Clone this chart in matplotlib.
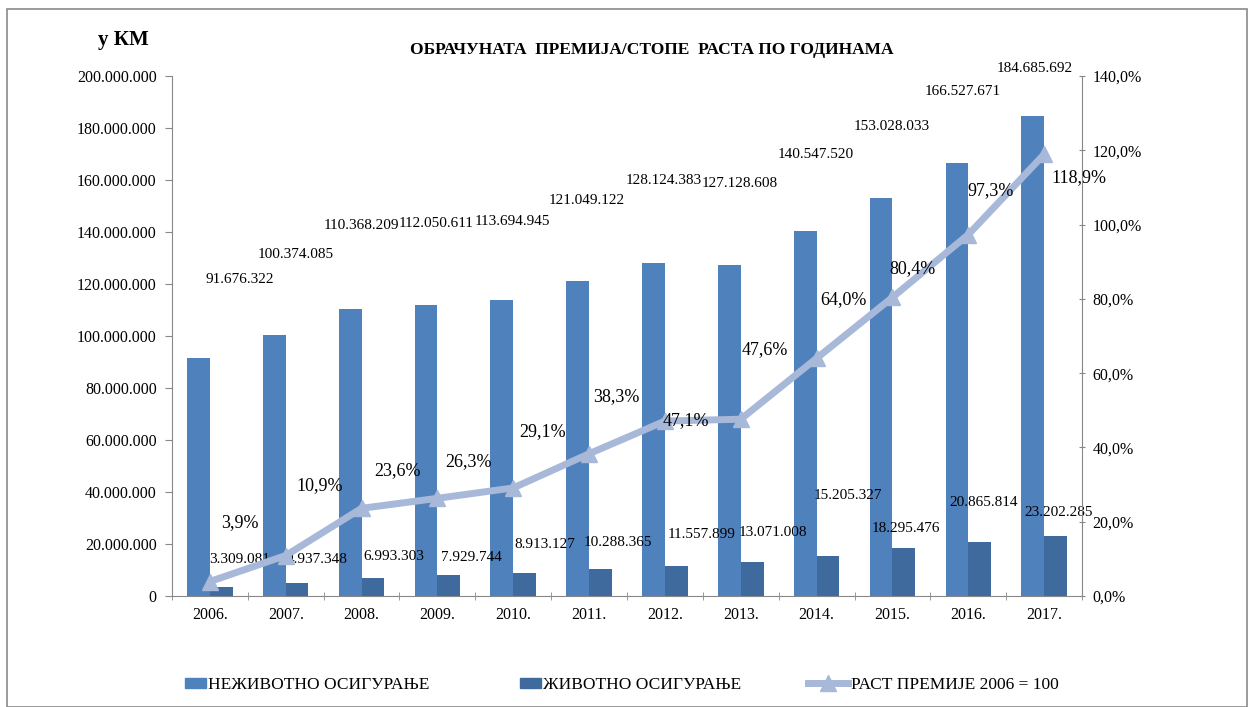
import matplotlib
matplotlib.use('Agg')
import matplotlib.pyplot as plt
import numpy as np
from matplotlib.lines import Line2D
from matplotlib.patches import Rectangle, Patch

# podaci
years = ['2006.', '2007.', '2008.', '2009.', '2010.', '2011.',
         '2012.', '2013.', '2014.', '2015.', '2016.', '2017.']
nonlife = [91676322, 100374085, 110368209, 112050611, 113694945, 121049122,
           128124383, 127128608, 140547520, 153028033, 166527671, 184685692]
life = [3309081, 4937348, 6993303, 7929744, 8913127, 10288365,
        11557899, 13071008, 15205327, 18295476, 20865814, 23202285]
growth = [3.9, 10.9, 23.6, 26.3, 29.1, 38.3, 47.1, 47.6, 64.0, 80.4, 97.3, 118.9]

series_names = ['НЕЖИВОТНО ОСИГУРАЊЕ', 'ЖИВОТНО ОСИГУРАЊЕ', 'РАСТ ПРЕМИЈЕ 2006 = 100']
title = 'ОБРАЧУНАТА  ПРЕМИЈА/СТОПЕ  РАСТА ПО ГОДИНАМА'
unit = 'у КМ'

# pomaci natpisa (u pikselima), rucno kao u originalu
nonlife_lbl_off = [(41, 78), (21, 81), (11, 84), (10, 81), (11, 79), (9, 81),
                   (10, 82), (10, 82), (11, 76), (11, 72), (6, 72), (2, 47)]
life_lbl_off = [(18, 28), (20, 24), (21, 21), (23, 18), (20, 28), (17, 27),
                (25, 31), (21, 30), (20, 61), (2, 20), (4, 39), (3, 23)]
growth_lbl_off = [(30, 59), (34, 70), (36, 38), (31, 37), (29, 56), (27, 57),
                  (21, 0), (24, 70), (27, 59), (20, 29), (22, 44), (35, -23)]
legend_x = [185, 520, 808]

c_nonlife = '#4F81BD'
c_life = '#3F6A9E'
c_line = '#A7B8D8'
c_axis = '#888888'
bar_w = 0.3

plt.rcParams['font.family'] = ['Liberation Serif', 'DejaVu Serif']

fig = plt.figure(figsize=(12.49, 7.07), dpi=100)
ax = fig.add_axes([0.1377, 0.157, 0.7286, 0.7355])
ax2 = ax.twinx()

x = np.arange(len(years))
ax.bar(x - bar_w / 2, nonlife, width=bar_w, color=c_nonlife, zorder=2)
ax.bar(x + bar_w / 2, life, width=bar_w, color=c_life, zorder=2)
ax2.plot(x, growth, color=c_line, lw=5, marker='^', markersize=11,
         solid_capstyle='butt', zorder=3)

ax.set_xlim(-0.5, len(years) - 0.5)
ax.set_ylim(0, 200e6)
ax2.set_ylim(0, 140)
ax.set_yticks(np.arange(0, 200e6 + 1, 20e6))
ax.set_yticklabels(['0'] + ['{:,}'.format(int(v)).replace(',', '.')
                            for v in np.arange(20e6, 200e6 + 1, 20e6)])
ax2.set_yticks(np.arange(0, 141, 20))
ax2.set_yticklabels(['{:.1f}%'.format(v).replace('.', ',') for v in np.arange(0, 141, 20)])

ax.set_xticks(x)
ax.set_xticklabels(years)
ax.set_xticks(np.arange(-0.5, len(years), 1), minor=True)
ax.tick_params(axis='x', which='major', length=0, pad=8, labelsize=11.5)
ax.tick_params(axis='x', which='minor', length=6, direction='inout', color=c_axis)
ax.tick_params(axis='y', length=5, color=c_axis, labelsize=11.5, pad=6)
ax2.tick_params(axis='y', length=5, direction='inout', color=c_axis, labelsize=11.5, pad=5)

for a in (ax, ax2):
    a.spines['top'].set_visible(False)
    for s in ('left', 'right', 'bottom'):
        a.spines[s].set_color(c_axis)
ax.spines['right'].set_visible(False)
ax2.spines['left'].set_visible(False)
ax2.spines['bottom'].set_visible(False)
ax.set_zorder(ax2.get_zorder() - 1)
ax.patch.set_visible(False)

# natpisi vrijednosti
for i in range(len(years)):
    ax.annotate('{:,}'.format(nonlife[i]).replace(',', '.'),
                (x[i] - bar_w / 2, nonlife[i]),
                xytext=(nonlife_lbl_off[i][0], nonlife_lbl_off[i][1]),
                textcoords='offset pixels', ha='center', va='center', fontsize=11)
    ax.annotate('{:,}'.format(life[i]).replace(',', '.'),
                (x[i] + bar_w / 2, life[i]),
                xytext=(life_lbl_off[i][0], life_lbl_off[i][1]),
                textcoords='offset pixels', ha='center', va='center', fontsize=11)
    ax2.annotate('{:.1f}%'.format(growth[i]).replace('.', ','),
                 (x[i], growth[i]),
                 xytext=(growth_lbl_off[i][0], growth_lbl_off[i][1]),
                 textcoords='offset pixels', ha='center', va='center', fontsize=13)

fig.text(652 / 1249, 1 - 50 / 707, title, ha='center', va='center',
         fontsize=12.5, fontweight='bold')
fig.text(123 / 1249, 1 - 40 / 707, unit, ha='center', va='center',
         fontsize=15, fontweight='bold')

# okvir
fig.patches.append(Rectangle((7 / 1249, 0), 1240 / 1249, 1 - 9 / 707,
                             transform=fig.transFigure, fill=False,
                             edgecolor='#8a8a8a', lw=1.2))

handles = [Patch(color=c_nonlife), Patch(color=c_life),
           Line2D([], [], color=c_line, lw=5, marker='^', markersize=11)]
for h, name, lx in zip(handles, series_names, legend_x):
    hl = 1.2 if isinstance(h, Patch) else 2.3
    lg = fig.legend([h], [name], loc='center left', bbox_to_anchor=(lx / 1249, 1 - 685 / 707),
                    frameon=False, fontsize=12.5, handlelength=hl, handletextpad=0.15,
                    handleheight=0.5, borderaxespad=0, borderpad=0)

fig.savefig('out.png', dpi=100)
